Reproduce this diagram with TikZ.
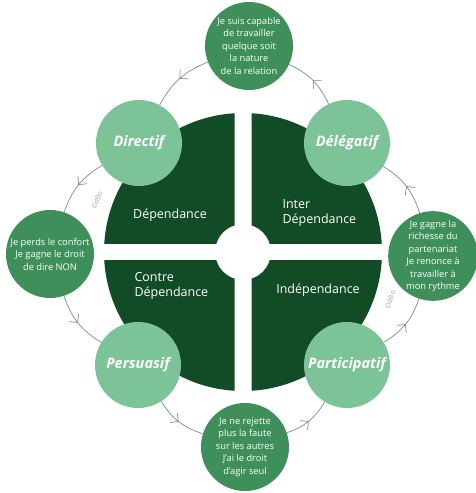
\documentclass[tikz,border=0pt]{standalone}
\usepackage{fontspec}
\setmainfont{Open Sans}
\usetikzlibrary{positioning,arrows.meta,calc,decorations.markings}
\definecolor{quadgreen}{HTML}{114C26}
\definecolor{rolegreen}{HTML}{7DC398}
\definecolor{saygreen}{HTML}{3E8F5A}
\definecolor{cyclegray}{HTML}{7F8C84}

\begin{document}
\begin{tikzpicture}[
    x=1pt, y=-1pt,
    rolecircle/.style={circle, fill=rolegreen, minimum size=86pt, inner sep=0pt,
                 text=white, font=\fontsize{14.5}{16}\selectfont\bfseries\itshape},
    saycircle/.style={circle, fill=saygreen, minimum size=88pt, inner sep=0pt,
                 text=white, align=center, font=\fontsize{9.3}{12.5}\selectfont},
    quadlabel/.style={text=white, align=left, font=\fontsize{12.5}{15}\selectfont},
    cyclearc/.style={draw=cyclegray, line width=0.7pt, postaction={decorate},
                 decoration={markings, mark=at position 0.5 with
                 {\arrow{Straight Barb[length=6pt,width=12pt]}}}},
    credit/.style={text=gray!70, font=\fontsize{7}{8}\selectfont},
]
\useasboundingbox (0,0) rectangle (476,493);
\coordinate (c) at (243,252);

% the four quadrants
\foreach \sx/\sy in {1/1,-1/1,1/-1,-1/-1} {
  \begin{scope}
    \clip ($(c)+(\sx*8.5,\sy*8.5)$) rectangle ($(c)+(\sx*150,\sy*150)$);
    \fill[quadgreen, even odd rule] (c) circle[radius=139] (c) circle[radius=28];
  \end{scope}
}

\node[quadlabel] (dep) at (170,215) {Dépendance};
\node[quadlabel, anchor=west] (inter) at (279,213) {Inter\\Dépendance};
\node[quadlabel, anchor=west] (contre) at (131,286) {Contre\\Dépendance};
\node[quadlabel] (indep) at (318,290) {Indépendance};

% styles
\node[rolecircle] (directif) at (139,143) {Directif};
\node[rolecircle] (delegatif) at (347,143) {Délégatif};
\node[rolecircle] (persuasif) at (138,365) {Persuasif};
\node[rolecircle] (participatif) at (347,365) {Participatif};

% what one gains
\node[saycircle] (sayup) at (249,46) {Je suis capable\\de travailler\\quelque soit\\la nature\\de la relation};
\node[saycircle] (sayleft) at (50,254) {Je perds le confort\\Je gagne le droit\\de dire NON};
\node[saycircle] (sayright) at (433,256) {Je gagne la\\richesse du\\partenariat\\Je renonce à\\travailler à\\mon rythme};
\node[saycircle] (saydown) at (245,447) {Je ne rejette\\plus la faute\\sur les autres\\J'ai le droit\\d'agir seul};

\draw[cyclearc] (delegatif) to[bend right=20] (sayup);
\draw[cyclearc] (sayup) to[bend right=20] (directif);
\draw[cyclearc] (directif) to[bend right=20] (sayleft);
\draw[cyclearc] (sayleft) to[bend right=20] (persuasif);
\draw[cyclearc] (persuasif) to[bend right=20] (saydown);
\draw[cyclearc] (saydown) to[bend right=20] (participatif);
\draw[cyclearc] (participatif) to[bend right=20] (sayright);
\draw[cyclearc] (sayright) to[bend right=20] (delegatif);

\node[credit, rotate=70] (markleft) at (97,200) {©dBo};
\node[credit, rotate=72] (markright) at (390,300) {©dBo};
\end{tikzpicture}
\end{document}
